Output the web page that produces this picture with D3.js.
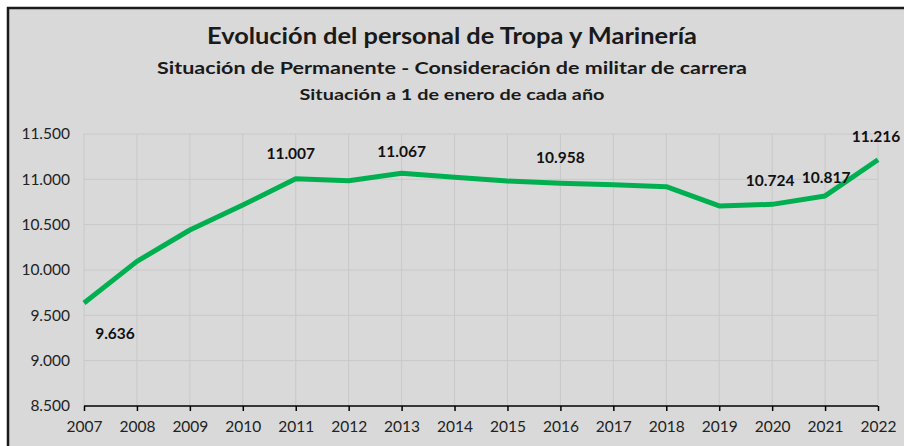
<!DOCTYPE html>
<html>
<head>
<meta charset="utf-8">
<script src="https://cdn.jsdelivr.net/npm/d3@7"></script>
<style>
  body { margin: 0; background: #fff; }
</style>
</head>
<body>
<div id="chart"></div>
<script>
// data
var years = [2007, 2008, 2009, 2010, 2011, 2012, 2013, 2014, 2015, 2016, 2017, 2018, 2019, 2020, 2021, 2022];
var personal = [9636, 10095, 10441, 10717, 11007, 10985, 11067, 11022, 10981, 10958, 10940, 10919, 10707, 10724, 10817, 11216];
var labelledYears = [2007, 2011, 2013, 2016, 2020, 2021, 2022];
var yTicks = [8500, 9000, 9500, 10000, 10500, 11000, 11500];
var titles = [
    "Evolución del personal de Tropa y Marinería",
    "Situación de Permanente - Consideración de militar de carrera",
    "Situación a 1 de enero de cada año"
];

var W = 904, H = 446;
var margin = {top: 134, right: 26, bottom: 40, left: 84};
var width = W - margin.left - margin.right;
var height = H - margin.top - margin.bottom;
var FONT = "Lato, 'Open Sans', sans-serif";

var fmt = function(v) { return d3.format(",")(v).replace(/,/g, "."); };

var svg = d3.select("#chart")
    .append("svg")
    .attr("width", W)
    .attr("height", H)
    .style("font-family", FONT);

// chart frame
svg.append("rect")
    .attr("x", 8).attr("y", 8)
    .attr("width", W).attr("height", H)
    .attr("fill", "#d9d9d9")
    .attr("stroke", "#1a1a1a")
    .attr("stroke-width", 2.5);

// titles
var titleY = [44, 74, 100];
var titleSize = [22, 17, 15];
var titleLen = [490, 590, 305];
titles.forEach(function(t, i) {
    svg.append("text")
        .attr("x", 452).attr("y", titleY[i])
        .attr("text-anchor", "middle")
        .attr("font-size", titleSize[i])
        .attr("font-weight", "bold")
        .attr("fill", "#1a1a1a")
        .attr("textLength", titleLen[i])
        .attr("lengthAdjust", "spacingAndGlyphs")
        .text(t);
});

var g = svg.append("g")
    .attr("transform", "translate(" + margin.left + "," + margin.top + ")");

var x = d3.scaleLinear()
    .domain([years[0], years[years.length - 1]])
    .range([0, width]);

var y = d3.scaleLinear()
    .domain([8500, 11500])
    .range([height, 0]);

// gridlines
g.selectAll(".hgrid")
    .data(yTicks.slice(1))
    .enter().append("line")
    .attr("x1", 0).attr("x2", width)
    .attr("y1", d => y(d)).attr("y2", d => y(d))
    .attr("stroke", "#c8c8c8").attr("stroke-width", 1);

g.selectAll(".vgrid")
    .data(years)
    .enter().append("line")
    .attr("x1", d => x(d)).attr("x2", d => x(d))
    .attr("y1", 0).attr("y2", height)
    .attr("stroke", "#c8c8c8").attr("stroke-width", 1);

// y axis labels
var yAxis = g.append("g")
    .call(d3.axisLeft(y).tickValues(yTicks).tickSize(0).tickPadding(14).tickFormat(fmt));
yAxis.select(".domain").remove();
yAxis.selectAll("text")
    .attr("font-size", 15.5)
    .attr("fill", "#222")
    .style("font-family", FONT);

// x axis
var xAxis = g.append("g")
    .attr("transform", "translate(0," + height + ")")
    .call(d3.axisBottom(x).tickValues(years).tickSize(5).tickPadding(10).tickFormat(d3.format("d")));
xAxis.select(".domain")
    .attr("stroke", "#000").attr("stroke-width", 1.5)
    .attr("d", "M0,0H" + width);
xAxis.selectAll(".tick line").attr("stroke", "#000").attr("stroke-width", 1.5);
xAxis.selectAll("text")
    .attr("font-size", 15.5)
    .attr("fill", "#222")
    .style("font-family", FONT);

// the line
var series = years.map(function(yr, i) { return {year: yr, value: personal[i]}; });

g.append("path")
    .datum(series)
    .attr("fill", "none")
    .attr("stroke", "#00b050")
    .attr("stroke-width", 5)
    .attr("stroke-linejoin", "round")
    .attr("d", d3.line().x(d => x(d.year)).y(d => y(d.value)));

// data labels (offsets in px from the point)
var labelOffset = {
    2007: [31, 36], 2011: [-5, -20], 2013: [0, -16], 2016: [0, -20],
    2020: [-2, -18], 2021: [1, -13], 2022: [-2, -18]
};

g.selectAll(".lbl")
    .data(series.filter(d => labelledYears.indexOf(d.year) >= 0))
    .enter().append("text")
    .attr("x", d => x(d.year) + labelOffset[d.year][0])
    .attr("y", d => y(d.value) + labelOffset[d.year][1])
    .attr("text-anchor", "middle")
    .attr("font-size", 15.5)
    .attr("font-weight", "bold")
    .attr("fill", "#111")
    .text(d => fmt(d.value));
</script>
</body>
</html>
